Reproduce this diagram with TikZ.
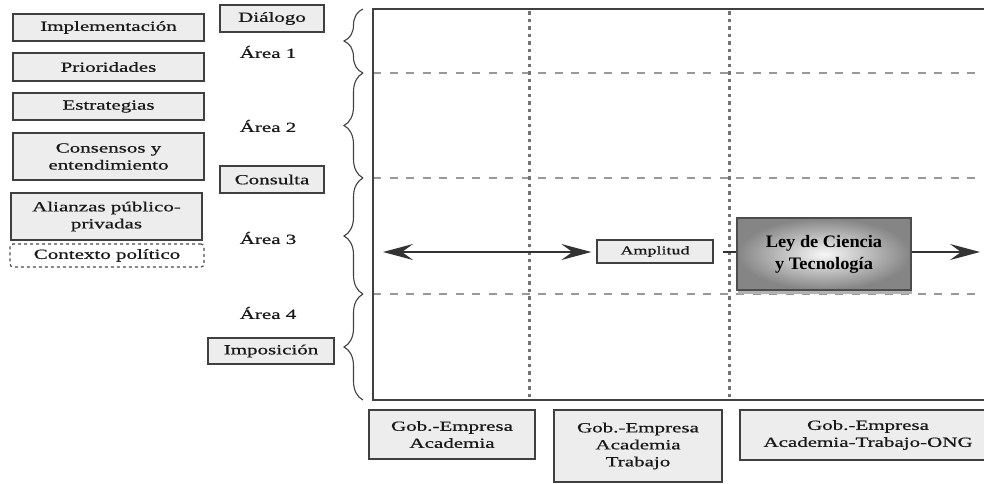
\documentclass[tikz,border=0pt]{standalone}
\usepackage{fontspec}
\setmainfont{Liberation Serif}[FakeStretch=1.5, FakeBold=0.7]
\newfontfamily\leyfont{Liberation Serif}[FakeStretch=1.05]
\usetikzlibrary{arrows.meta,decorations.pathreplacing,shadows}
\begin{document}
\begin{tikzpicture}[x=1pt,y=-1pt,
  box/.style={draw=black!75, line width=1.4pt, fill=black!7, inner sep=0pt,
    align=center, text=black!90, font=\fontsize{14}{17}\selectfont},
  dashbox/.style={draw=black!70, line width=1.2pt, dashed, rounded corners=3pt,
    inner sep=0pt, align=center, text=black!90, font=\fontsize{14}{17}\selectfont},
  arealabel/.style={inner sep=0pt, text=black!90, font=\fontsize{14}{17}\selectfont},
  bracestyle/.style={decorate, decoration={brace, amplitude=19pt}, line width=1.1pt, black!75},
  frameline/.style={line width=2pt, black!75},
  rowline/.style={line width=1.4pt, black!40, dash pattern=on 8pt off 8.5pt},
  colline/.style={line width=3pt, black!55, dash pattern=on 3.5pt off 4pt},
  conn/.style={line width=1.4pt, black!80},
  stl/.tip={Stealth[length=30pt,width=16pt,inset=11pt]},
  leybox/.style={draw=black!70, line width=1.5pt, inner color=black!3, outer color=black!48,
    drop shadow={shadow xshift=1pt, shadow yshift=-4pt, fill=black!30, opacity=1},
    inner sep=0pt, align=center, font=\leyfont\bfseries\fontsize{17.5}{22}\selectfont}
]
\clip (0,0) rectangle (984,483);
\fill[white] (0,0) rectangle (984,483);

% left column
\node[box, minimum width=191pt, minimum height=27pt] (impl) at (108.5,27.5) {Implementación};
\node[box, minimum width=191pt, minimum height=28pt] (prio) at (108.5,67) {Prioridades};
\node[box, minimum width=191pt, minimum height=27pt] (estr) at (108.5,106.5) {Estrategias};
\node[box, minimum width=191pt, minimum height=47pt] (cons) at (108.5,156.5) {Consensos y\\entendimiento};
\node[box, minimum width=191pt, minimum height=47pt] (alia) at (106.5,216.5) {Alianzas público-\\privadas};
\node[dashbox, minimum width=194pt, minimum height=23pt] (cont) at (107,255.5) {Contexto político};

% second column
\node[box, minimum width=104pt, minimum height=27pt] (dial) at (272,18.5) {Diálogo};
\node[arealabel] (a1) at (268,52) {Área 1};
\node[arealabel] (a2) at (268,126) {Área 2};
\node[box, minimum width=104pt, minimum height=27pt] (consu) at (272,179.5) {Consulta};
\node[arealabel] (a3) at (268,238) {Área 3};
\node[arealabel] (a4) at (268,313) {Área 4};
\node[box, minimum width=126pt, minimum height=26pt] (impo) at (271,351) {Imposición};

% braces
\draw[bracestyle] (363,73) -- (363,9);
\draw[bracestyle] (363,178) -- (363,73);
\draw[bracestyle] (363,294) -- (363,178);
\draw[bracestyle] (363,400) -- (363,294);

% grid
\foreach \yy in {73,178,294} \draw[rowline] (373,\yy) -- (984,\yy);
\foreach \xx in {529,729} \draw[colline] (\xx,11) -- (\xx,399);
\draw[frameline] (984,9) -- (373,9) -- (373,400) -- (984,400);

% arrows and boxes inside
\coordinate (aL) at (383,252);
\coordinate (aR) at (980,252);
\node[box, line width=1.3pt, minimum width=116pt, minimum height=23pt,
  font=\fontsize{12}{14}\selectfont] (amp) at (655,251.5) {Amplitud};
\node[leybox, minimum width=174pt, minimum height=72pt] (ley) at (824,254) {Ley de Ciencia\\y Tecnología};
\draw[conn, stl-stl, shorten >=5pt] (aL) -- (amp.west |- aL);
\draw[conn, line width=1.2pt, shorten <=9pt] (amp.east |- aL) -- (ley.west |- aL);
\draw[conn, -stl] (ley.east |- aR) -- (aR);

% bottom boxes
\node[box, minimum width=166pt, minimum height=49pt] (b1) at (452,434.5) {Gob.-Empresa\\Academia};
\node[box, minimum width=168pt, minimum height=72pt] (b2) at (638,446) {Gob.-Empresa\\Academia\\Trabajo};
\node[box, minimum width=256pt, minimum height=50pt] (b3) at (868,435) {Gob.-Empresa\\Academia-Trabajo-ONG};
\end{tikzpicture}
\end{document}
